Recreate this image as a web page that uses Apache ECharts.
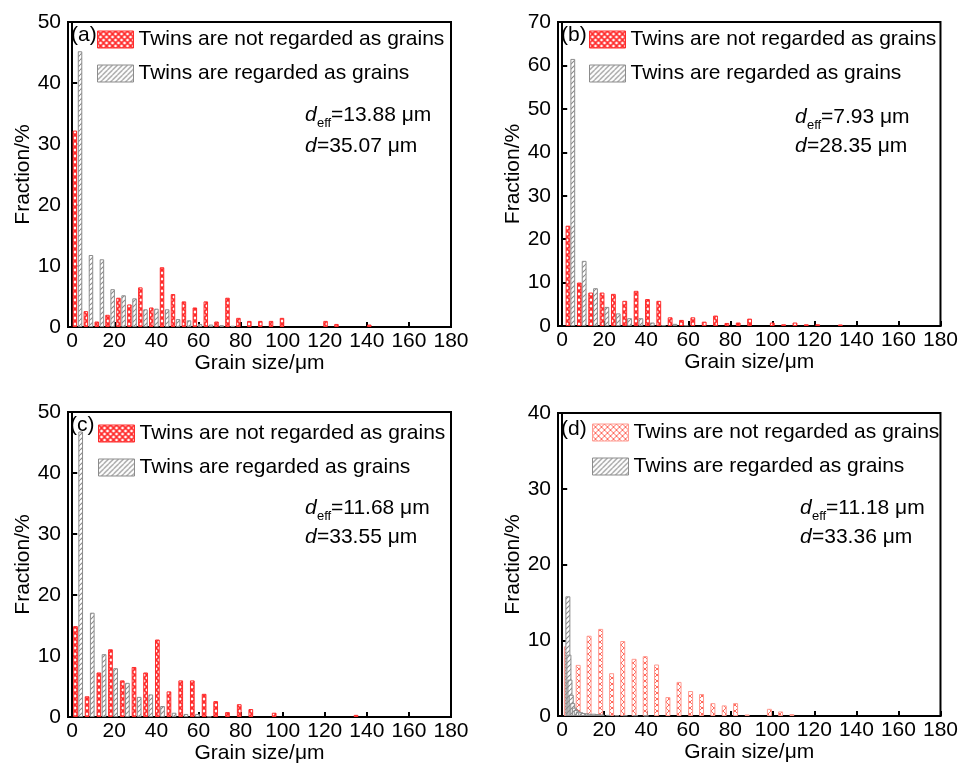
<!DOCTYPE html>
<html><head><meta charset="utf-8">
<script src="https://cdn.jsdelivr.net/npm/echarts@6/dist/echarts.min.js"></script>
<style>html,body{margin:0;padding:0;background:#fff}#chart{width:961px;height:765px}</style>
</head><body><div id="chart"></div>
<script>
// ---------------- data ----------------
const xTicks = [0, 20, 40, 60, 80, 100, 120, 140, 160, 180];
const nameNot = 'Twins are not regarded as grains';
const nameTwin = 'Twins are regarded as grains';
const panelLabels = ['(a)', '(b)', '(c)', '(d)'];
const deffValues = ['13.88', '7.93', '11.68', '11.18'];
const dValues = ['35.07', '28.35', '33.55', '33.36'];
const yMaxes = [50, 70, 50, 40];

// panel (a)
const aBins = [2.5, 7.7, 12.9, 18.0, 23.2, 28.4, 33.6, 38.8, 43.9, 49.1, 54.3, 59.5, 64.7, 69.8, 75.0, 80.2, 85.4, 90.6, 95.7, 100.9, 106.1, 111.3, 116.5, 121.6, 126.8, 132.0, 137.2, 142.4];
const aNot  = [32.2, 2.6, 0.9, 2.0, 4.8, 3.7, 6.5, 3.2, 9.8, 5.4, 4.2, 3.2, 4.2, 0.9, 4.8, 1.5, 1.0, 1.0, 1.0, 1.5, 0, 0, 0, 1.0, 0.5, 0, 0, 0.4];
const aTwin = [45.2, 11.8, 11.1, 6.2, 5.2, 4.7, 2.9, 3.0, 2.9, 1.3, 1.1, 0.5, 0.4, 0.3, 0.2, 0, 0, 0, 0, 0, 0, 0, 0, 0, 0, 0, 0, 0];

// panel (b)
const bBins = [3.9, 9.3, 14.7, 20.1, 25.5, 30.9, 36.3, 41.7, 47.1, 52.5, 57.9, 63.3, 68.7, 74.1, 79.5, 84.9, 90.3, 95.7, 101.1, 106.5, 111.9, 117.3, 122.7, 128.1, 133.5];
const bNot  = [23.1, 10.0, 7.7, 7.7, 7.4, 5.8, 8.1, 6.2, 5.8, 2.0, 1.4, 2.0, 1.0, 2.4, 0.7, 0.8, 1.7, 0, 0.8, 0.4, 0.8, 0.4, 0.4, 0, 0.35];
const bTwin = [61.5, 15.0, 8.7, 4.4, 2.9, 1.8, 1.8, 0.8, 0.2, 0.5, 0.2, 0, 0, 0, 0, 0, 0, 0, 0, 0, 0, 0, 0, 0, 0];

// panel (c)
const cBins = [2.8, 8.3, 13.9, 19.4, 25.0, 30.6, 36.1, 41.7, 47.2, 52.8, 58.3, 63.9, 69.4, 75.0, 80.6, 86.1, 91.7, 97.2, 102.8, 108.3, 113.9, 119.4, 125.0, 130.6, 136.1];
const cNot  = [14.9, 3.4, 7.3, 11.1, 6.0, 8.2, 7.3, 12.7, 4.2, 6.0, 6.0, 3.8, 2.6, 0.8, 2.1, 1.3, 0, 0.7, 0, 0, 0, 0, 0, 0, 0.35];
const cTwin = [46.8, 17.1, 10.3, 8.0, 5.6, 3.3, 3.7, 1.8, 0.7, 0.5, 0.5, 0.1, 0, 0, 0, 0, 0, 0, 0, 0, 0, 0, 0, 0, 0];

// panel (d)
const dBins = [2.0, 7.6, 12.8, 18.3, 23.5, 28.8, 34.2, 39.5, 44.9, 50.3, 55.6, 61.1, 66.3, 71.7, 77.1, 82.5, 88.0, 93.4, 98.6, 103.9, 109.3];
const dNot  = [9.2, 6.75, 10.6, 11.5, 5.65, 9.9, 7.55, 7.9, 6.8, 2.5, 4.5, 3.3, 2.9, 1.7, 1.4, 1.7, 0.2, 0, 0.95, 0.6, 0.25];
const dTwinBins = [2.7, 3.2, 3.7, 4.3, 5.0, 5.8, 6.7, 7.7, 8.8, 10.0, 11.5, 13.0, 15.0, 17.0, 19.0, 22.0, 26.0, 30.0, 35.0, 40.0];
const dTwin = [15.8, 8.1, 4.8, 2.8, 1.7, 1.1, 0.8, 0.6, 0.5, 0.4, 0.35, 0.3, 0.3, 0.25, 0.2, 0.15, 0.1, 0.1, 0.1, 0.05];

// ---------------- patterns ----------------
function crossPattern(color, lw, size) {
  const c = document.createElement('canvas'); c.width = size; c.height = size;
  const g = c.getContext('2d');
  g.fillStyle = '#fff'; g.fillRect(0, 0, size, size);
  g.strokeStyle = color; g.lineWidth = lw;
  g.beginPath();
  for (const o of [-size, 0, size]) {
    g.moveTo(o, 0); g.lineTo(o + size, size);
    g.moveTo(o + size, 0); g.lineTo(o, size);
  }
  g.stroke();
  return { image: c, repeat: 'repeat' };
}
function diagPattern(color, lw, size) {
  const c = document.createElement('canvas'); c.width = size; c.height = size;
  const g = c.getContext('2d');
  g.fillStyle = '#fff'; g.fillRect(0, 0, size, size);
  g.strokeStyle = color; g.lineWidth = lw;
  g.beginPath();
  for (const o of [-size, 0, size]) { g.moveTo(o, size); g.lineTo(o + size, 0); }
  g.stroke();
  return { image: c, repeat: 'repeat' };
}
const redPat = crossPattern('#ff2a2a', 1.7, 6);
const redPatD = crossPattern('#ff6a5e', 1.0, 6);
const greyPat = diagPattern('#8a8a8a', 1.1, 5);
const redStyle = { color: redPat, borderColor: '#ff2a2a', borderWidth: 1 };
const redStyleD = { color: redPatD, borderColor: '#ff9a90', borderWidth: 1 };
const greyStyle = { color: greyPat, borderColor: '#8c8c8c', borderWidth: 1 };

// ---------------- layout ----------------
const FONT = 'Liberation Sans, Arial, Helvetica, sans-serif';
const grids = [
  { left: 68, top: 22, width: 383, height: 305 },
  { left: 558, top: 22, width: 383, height: 304 },
  { left: 68, top: 412, width: 383, height: 305 },
  { left: 558, top: 413, width: 383, height: 303 }
];

const xAxes = grids.map((g, i) => ({
  type: 'value', gridIndex: i, min: -2, max: 180,
  name: 'Grain size/\u03bcm', nameLocation: 'middle', nameGap: 23,
  nameTextStyle: { fontSize: 21, color: '#000', fontFamily: FONT },
  axisLine: { show: true, lineStyle: { color: '#000', width: 2 } },
  axisTick: { show: true, inside: true, length: 5, customValues: xTicks, lineStyle: { color: '#000', width: 2 } },
  axisLabel: { customValues: xTicks, fontSize: 21, color: '#000', fontFamily: FONT, margin: 4 },
  splitLine: { show: false }
}));
const yAxes = grids.map((g, i) => ({
  type: 'value', gridIndex: i, min: 0, max: yMaxes[i], interval: 10,
  name: 'Fraction/%', nameLocation: 'middle', nameGap: 34,
  nameTextStyle: { fontSize: 21, color: '#000', fontFamily: FONT },
  axisLine: { show: true, lineStyle: { color: '#000', width: 2 } },
  axisTick: { show: true, inside: true, length: 5, lineStyle: { color: '#000', width: 2 } },
  axisLabel: { fontSize: 21, color: '#000', fontFamily: FONT, margin: 7 },
  splitLine: { show: false }
}));

function pairs(xs, ys) {
  const out = [];
  xs.forEach((x, i) => { if (ys[i]) out.push([x, ys[i]]); });
  return out;
}
function bar(idx, name, xs, ys, style, width, gap) {
  return {
    type: 'bar', name, xAxisIndex: idx, yAxisIndex: idx,
    data: pairs(xs, ys), itemStyle: style, barWidth: width, barGap: gap,
    emphasis: { disabled: true }, silent: true
  };
}
const series = [
  bar(0, nameNot, aBins, aNot, redStyle, 4.5, '14%'),
  bar(0, nameTwin, aBins, aTwin, greyStyle, 4.5, '14%'),
  bar(1, nameNot, bBins, bNot, redStyle, 4.8, '0%'),
  bar(1, nameTwin, bBins, bTwin, greyStyle, 4.8, '0%'),
  bar(2, nameNot, cBins, cNot, redStyle, 4.7, '10%'),
  bar(2, nameTwin, cBins, cTwin, greyStyle, 4.7, '10%'),
  bar(3, nameNot, dBins, dNot, redStyleD, 5, '-100%'),
  bar(3, nameTwin, dTwinBins, dTwin, greyStyle, 5, '-100%')
];

const legendPos = [[97, 29], [589, 29], [98, 423], [592, 422]];
const legends = legendPos.map((p, i) => ({
  orient: 'vertical', left: p[0], top: p[1], itemWidth: 36, itemHeight: 17, itemGap: 13,
  padding: 0, selectedMode: false,
  textStyle: { fontSize: 21, color: '#000', fontFamily: FONT },
  data: [
    { name: nameNot, icon: 'rect', itemStyle: i === 3 ? redStyleD : redStyle },
    { name: nameTwin, icon: 'rect', itemStyle: greyStyle }
  ]
}));

// annotation anchors (layout)
const labelPos = [[71, 37], [561, 37], [70, 427], [561, 431]];
const notePos = [[305, 115, 146], [795, 117, 146], [305, 508, 537], [800, 508, 537]];
const graphic = [];
labelPos.forEach((p, i) => {
  graphic.push({ type: 'text', left: p[0], top: p[1] - 12, silent: true,
    style: { text: panelLabels[i], font: '21px ' + FONT, fill: '#000' } });
});
notePos.forEach((p, i) => {
  const x = p[0];
  graphic.push({ type: 'text', x: x, y: p[1], silent: true,
    style: { text: 'd', font: 'italic 21px ' + FONT, fill: '#000', verticalAlign: 'middle' } });
  graphic.push({ type: 'text', x: x + 12, y: p[1] + 8, silent: true,
    style: { text: 'eff', font: '13px ' + FONT, fill: '#000', verticalAlign: 'middle' } });
  graphic.push({ type: 'text', x: x + 26, y: p[1], silent: true,
    style: { text: '=' + deffValues[i] + ' \u03bcm', font: '21px ' + FONT, fill: '#000', verticalAlign: 'middle' } });
  graphic.push({ type: 'text', x: x, y: p[2], silent: true,
    style: { text: 'd', font: 'italic 21px ' + FONT, fill: '#000', verticalAlign: 'middle' } });
  graphic.push({ type: 'text', x: x + 12, y: p[2], silent: true,
    style: { text: '=' + dValues[i] + ' \u03bcm', font: '21px ' + FONT, fill: '#000', verticalAlign: 'middle' } });
});

const chart = echarts.init(document.getElementById('chart'), null, { renderer: 'canvas' });
chart.setOption({
  animation: false,
  backgroundColor: '#fff',
  textStyle: { fontFamily: FONT },
  grid: grids.map(g => Object.assign({ show: true, borderColor: '#000', borderWidth: 2, backgroundColor: 'transparent' }, g)),
  xAxis: xAxes,
  yAxis: yAxes,
  legend: legends,
  series,
  graphic
});
</script></body></html>
